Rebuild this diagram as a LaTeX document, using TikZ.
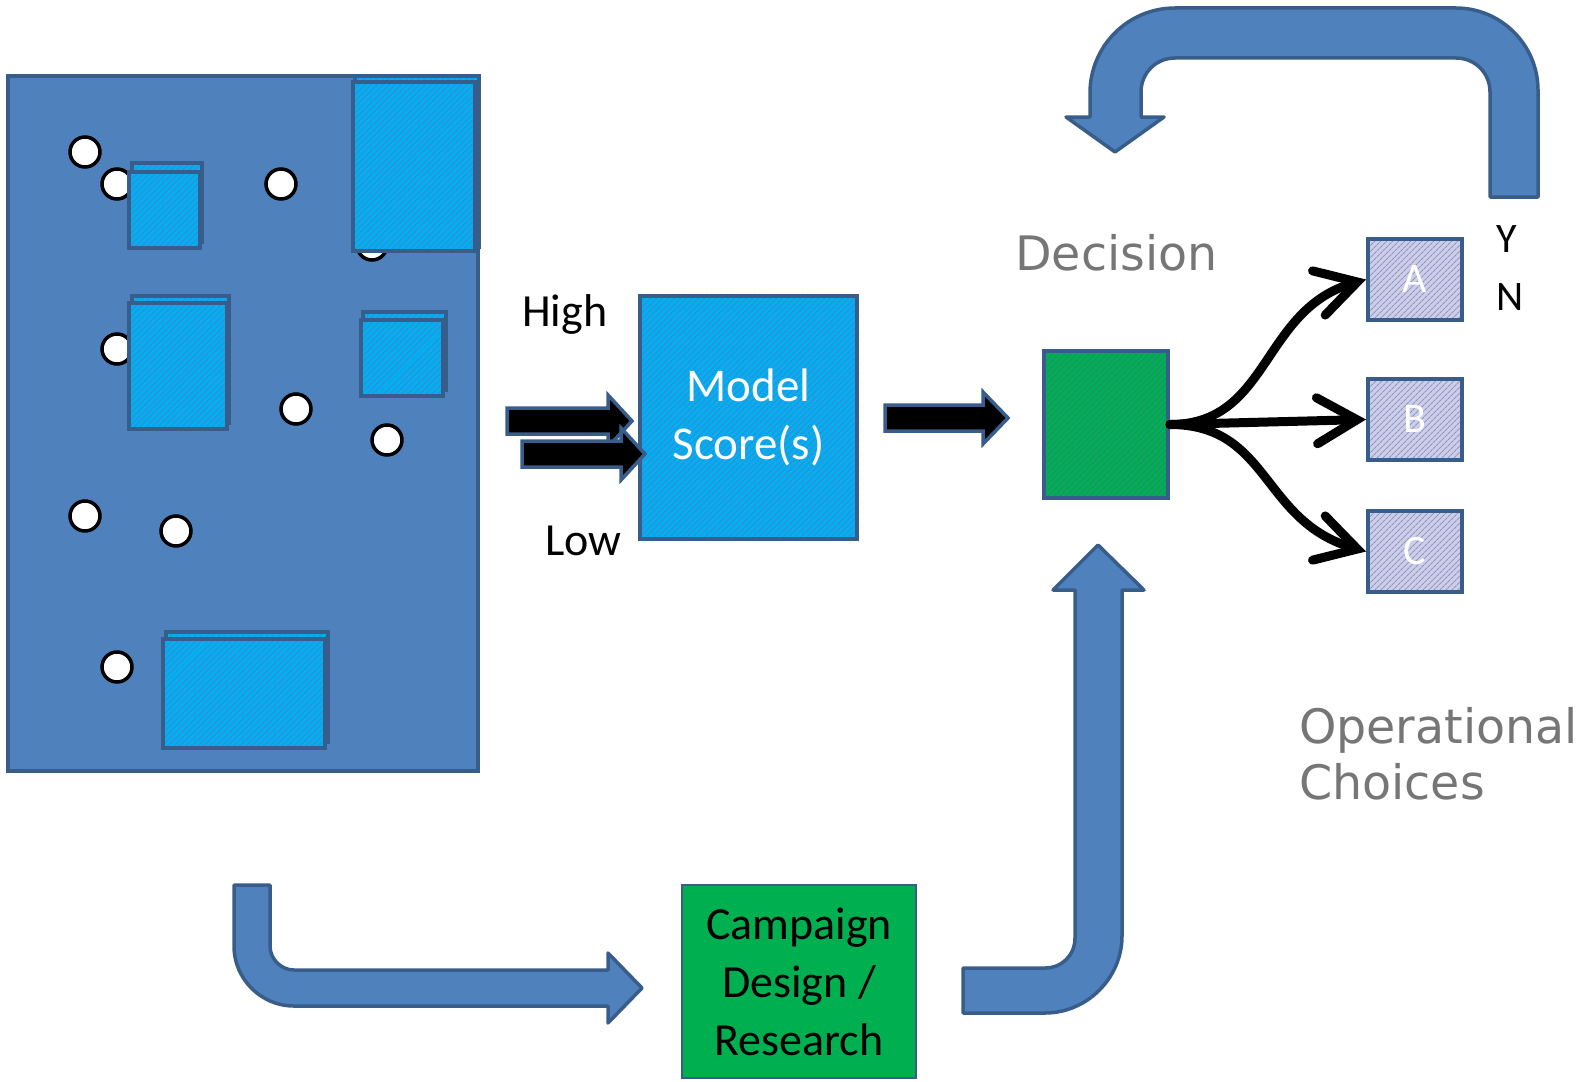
\documentclass[tikz,border=0pt]{standalone}
\usepackage{fontspec}
\setmainfont{Carlito}
\newfontfamily\graylabelfont{DejaVu Sans}
\usetikzlibrary{patterns.meta,arrows.meta,positioning}

\definecolor{panelblue}{RGB}{79,129,189}
\definecolor{edgeblue}{RGB}{56,93,138}
\definecolor{boxcyan}{RGB}{0,176,240}
\definecolor{hatchcyan}{RGB}{70,130,205}
\definecolor{boxgreen}{RGB}{0,176,80}
\definecolor{hatchgreen}{RGB}{40,135,120}
\definecolor{boxlilac}{RGB}{206,206,230}
\definecolor{hatchlilac}{RGB}{140,150,200}
\definecolor{labelgray}{RGB}{118,118,118}

\begin{document}
\begin{tikzpicture}[x=1pt, y=-1pt,
  hatched/.style={preaction={fill=#1}, pattern={Lines[angle=45,distance=4pt,line width=1.1pt]}},
  cyanbox/.style={draw=edgeblue, line width=4pt, hatched=boxcyan, pattern color=hatchcyan},
  greenbox/.style={draw=edgeblue, line width=4pt, hatched=boxgreen, pattern color=hatchgreen},
  choicebox/.style={draw=edgeblue, line width=4pt, hatched=boxlilac, pattern color=hatchlilac,
    minimum width=94pt, minimum height=81pt, text=white, font=\fontsize{42}{50}\selectfont},
  bigarrow/.style={fill=panelblue, draw=edgeblue, line width=3.5pt, line join=round},
  blackarrow/.style={fill=black, draw=edgeblue, line width=3.5pt, line join=miter},
  dot/.style={draw=black, fill=white, line width=3.5pt},
  branch/.style={line width=9pt, line cap=round, -{Straight Barb[length=40pt,width=46pt,line cap=round]}},
  txt/.style={font=\fontsize{46}{58}\selectfont, inner sep=0pt},
  graytxt/.style={font=\graylabelfont\fontsize{47.5}{56}\selectfont, text=labelgray, inner sep=0pt}
]
\useasboundingbox (0,0) rectangle (1581,1081);

% population panel
\draw[fill=panelblue, draw=edgeblue, line width=3.5pt] (8,76) rectangle (478,771);
\foreach \cx/\cy in {85/152,117/184,281/184,372/245,117/349,296/409,387/440,85/516,176/531,117/667,313/690}
  {\draw[dot] (\cx,\cy) circle[radius=15pt];}

% segments (back copy, then front)
\foreach \xa/\ya/\xb/\yb in {132/163/202/242, 355/76/479/247, 132/296/229/423, 363/312/446/390, 166/632/328/742}
  {\draw[cyanbox] (\xa,\ya) rectangle (\xb,\yb);}
\foreach \xa/\ya/\xb/\yb in {129/172/200/248, 353/82/475/251, 129/303/227/429, 361/320/443/396, 163/639/325/748}
  {\draw[cyanbox] (\xa,\ya) rectangle (\xb,\yb);}

% model scores
\node[cyanbox, minimum width=217pt, minimum height=243pt, text=white, align=center,
  font=\fontsize{47}{58}\selectfont] (model) at (748.5,417.5) {\raisebox{-5pt}{Model}\\\raisebox{-5pt}{Score(s)}};
\node[txt, anchor=base west] (high) at (522,326) {High};
\node[txt, anchor=base west] (low) at (545,555) {Low};

\draw[blackarrow] (507,408) -- (608,408) -- (608,395) -- (632,421) -- (608,447) -- (608,434) -- (507,434) -- cycle;
\draw[blackarrow] (522,441) -- (621,441) -- (621,428) -- (645,454) -- (621,480) -- (621,467) -- (522,467) -- cycle;
\draw[blackarrow] (885,405) -- (983,405) -- (983,392) -- (1008,418) -- (983,444) -- (983,431) -- (885,431) -- cycle;

% decision and choices
\node[greenbox, minimum width=124pt, minimum height=147pt] (decision) at (1106,424.5) {};
\node[graytxt, anchor=base west] (decisionlbl) at (1015,270) {Decision};

\node[choicebox] (choiceA) at (1415,279.5) {A};
\node[choicebox] (choiceB) at (1415,419.5) {B};
\node[choicebox] (choiceC) at (1415,551.5) {C};
\node[txt, font=\fontsize{42}{50}\selectfont, anchor=base] (yes) at (1507,252) {Y};
\node[txt, font=\fontsize{42}{50}\selectfont, anchor=base] (no) at (1510,310) {N};

\draw[branch] (decision.east) .. controls +(100,0) and +(-105,30) .. (choiceA.west);
\draw[branch] (decision.east) -- (choiceB.west);
\draw[branch] (decision.east) .. controls +(100,0) and +(-105,-30) .. (choiceC.west);

\node[graytxt, anchor=base west, align=left] (oplbl) at (1299,799) {Operational\\Choices};

% feedback loop
\draw[bigarrow] (1490,197) -- (1490,92) .. controls (1490,73) and (1475,58) .. (1456,58)
  -- (1175,58) .. controls (1156,58) and (1141,73) .. (1141,92) -- (1141,117) -- (1164,117)
  -- (1115,152) -- (1066,117) -- (1090,117) -- (1090,93) .. controls (1090,46) and (1128,8) .. (1175,8)
  -- (1456,8) .. controls (1501,8) and (1538,45) .. (1538,90) -- (1538,197) -- cycle;

% campaign design
\node[fill=boxgreen, draw=edgeblue, line width=1.5pt, minimum width=234pt, minimum height=193pt,
  align=center, font=\fontsize{46}{58}\selectfont] (campaign) at (799,981.5) {Campaign\\Design /\\Research};

\draw[bigarrow] (234,885) -- (234,946) .. controls (234,979) and (261,1006) .. (294,1006) -- (608,1006)
  -- (608,1023) -- (642,988) -- (608,953) -- (608,970) -- (294,970) .. controls (281,970) and (270,959) .. (270,946)
  -- (270,885) -- cycle;

\draw[bigarrow] (963,968) -- (1045,968) .. controls (1062,968) and (1075,955) .. (1075,938) -- (1075,590)
  -- (1053,590) -- (1098,545) -- (1144,590) -- (1122,590) -- (1122,936)
  .. controls (1122,978) and (1087,1013) .. (1045,1013) -- (963,1013) -- cycle;

\end{tikzpicture}
\end{document}
